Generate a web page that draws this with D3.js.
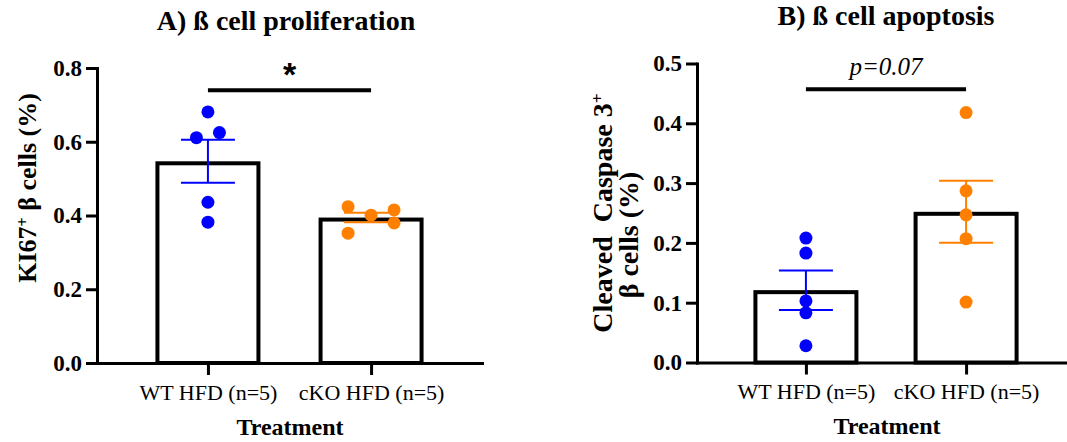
<!DOCTYPE html>
<html>
<head>
<meta charset="utf-8">
<script src="https://cdn.jsdelivr.net/npm/d3@7"></script>
<style>
	body { margin: 0; background: #fff; }
	svg { display: block; font-family: 'Liberation Serif', 'Times New Roman', serif; }
</style>
</head>
<body>
<svg id="chart" width="1067" height="442"></svg>
<script>
'use strict';

var groups      = ['WT HFD (n=5)', 'cKO HFD (n=5)'];
var groupColors = ['#0000ff', '#ff8000'];

// values (% of beta cells)
var prolifWT = [0.681, 0.625, 0.611, 0.436, 0.382];
var prolifKO = [0.424, 0.415, 0.401, 0.380, 0.352];
var apopWT   = [0.208, 0.183, 0.103, 0.083, 0.028];
var apopKO   = [0.418, 0.287, 0.247, 0.207, 0.101];

var prolifTicks = [0, 0.2, 0.4, 0.6, 0.8];
var apopTicks   = [0, 0.1, 0.2, 0.3, 0.4, 0.5];

var sigLabels = ['*', 'p=0.07'];
var sigLevels = [0.74, 0.457];

var titles   = ['A) ß cell proliferation', 'B) ß cell apoptosis'];
var xLabel   = 'Treatment';
// each line is a list of [text, superscript?]
var yLabelA  = [[['KI67', false], ['+', true], [' β cells (%)', false]]];
var yLabelB  = [[['Cleaved  Caspase 3', false], ['+', true]], [['β cells (%)', false]]];

var panels = [
	{
		title: titles[0], series: [prolifWT, prolifKO], ticks: prolifTicks,
		sig: sigLabels[0], sigLevel: sigLevels[0], yLabel: yLabelA,
		left: 97, right: 482, top: 68, bottom: 363,
		titleX: 286, titleY: 30, xLabelX: 290, xLabelY: 435,
		yLabelX: 36, yLabelY: 188, yLabelShift: [0], yLabelSize: 26
	},
	{
		title: titles[1], series: [apopWT, apopKO], ticks: apopTicks,
		sig: sigLabels[1], sigLevel: sigLevels[1], yLabel: yLabelB,
		left: 697, right: 1075, top: 63.5, bottom: 362.5,
		titleX: 886, titleY: 25, xLabelX: 887, xLabelY: 434,
		yLabelX: 612, yLabelY: 213, yLabelShift: [0, -22], yLabelSize: 28
	}
];

var svg = d3.select('#chart');

// spread points that sit too close vertically into side-by-side columns
function swarm(values, y, gap, spacing) {
	var order = values.map(function (v, i) { return i; })
		.sort(function (a, b) { return values[a] - values[b]; });
	var offsets = values.map(function () { return 0; });
	var group = [];

	function flush() {
		var cols = Math.min(group.length, 3);
		var slots = cols === 3 ? [-spacing, spacing, 0] : cols === 2 ? [-spacing / 2, spacing / 2] : [0];
		var n = slots.length;
		var period = n > 1 ? 2 * n - 2 : 1;

		group.forEach(function (idx, k) {
			var p = k % period;
			offsets[idx] = slots[p < n ? p : period - p];
		});
		group = [];
	}

	order.forEach(function (idx, k) {
		if (k > 0 && Math.abs(y(values[idx]) - y(values[order[k - 1]])) >= gap) {
			flush();
		}
		group.push(idx);
	});
	flush();

	return offsets;
}

function addRich(text, parts) {
	parts.forEach(function (p) {
		var t = text.append('tspan').text(p[0]);
		if (p[1]) {
			t.attr('baseline-shift', 'super').attr('font-size', '0.62em');
		}
	});
}

function drawPanel(cfg) {
	var g = svg.append('g');
	var ticks = cfg.ticks;

	var y = d3.scaleLinear()
		.domain([0, ticks[ticks.length - 1]])
		.range([cfg.bottom, cfg.top]);

	var x = d3.scalePoint()
		.domain(groups)
		.range([cfg.left, cfg.right])
		.padding(0.68);

	var stats = cfg.series.map(function (vals, i) {
		var m = d3.mean(vals);
		var se = d3.deviation(vals) / Math.sqrt(vals.length);
		return { name: groups[i], values: vals, mean: m, sem: se, color: groupColors[i] };
	});

	// bars, stroke kept inside the mean
	g.selectAll('.bar').data(stats).enter().append('rect')
		.attr('class', 'bar')
		.attr('x', function (d) { return x(d.name) - 50.5; })
		.attr('width', 101)
		.attr('y', function (d) { return y(d.mean) + 2; })
		.attr('height', function (d) { return y(0) - y(d.mean) - 2; })
		.attr('fill', '#fff')
		.attr('stroke', '#000')
		.attr('stroke-width', 4);

	// axes
	var yAxis = g.append('g')
		.attr('transform', 'translate(' + cfg.left + ',0)')
		.call(d3.axisLeft(y).tickValues(ticks).tickSize(11).tickSizeOuter(0).tickPadding(4)
			.tickFormat(d3.format('.1f')));

	var xAxis = g.append('g')
		.attr('transform', 'translate(0,' + y(0) + ')')
		.call(d3.axisBottom(x).tickSize(12).tickSizeOuter(0));

	[yAxis, xAxis].forEach(function (a) {
		a.attr('font-family', null).attr('font-size', null);
		a.selectAll('path, line').attr('stroke', '#000').attr('stroke-width', 3);
		a.select('.domain').attr('stroke-linecap', 'square');
	});

	yAxis.selectAll('text')
		.attr('font-size', 23)
		.attr('font-weight', 'bold')
		.attr('fill', '#000');

	xAxis.selectAll('text')
		.attr('font-size', 22)
		.attr('fill', '#000')
		.attr('y', 21);

	// error bars
	var err = g.selectAll('.err').data(stats).enter().append('g')
		.attr('class', 'err')
		.attr('stroke', function (d) { return d.color; })
		.attr('stroke-width', 2);

	err.append('line')
		.attr('x1', function (d) { return x(d.name); })
		.attr('x2', function (d) { return x(d.name); })
		.attr('y1', function (d) { return y(d.mean + d.sem); })
		.attr('y2', function (d) { return y(d.mean - d.sem); });

	[1, -1].forEach(function (s) {
		err.append('line')
			.attr('x1', function (d) { return x(d.name) - 27; })
			.attr('x2', function (d) { return x(d.name) + 27; })
			.attr('y1', function (d) { return y(d.mean + s * d.sem); })
			.attr('y2', function (d) { return y(d.mean + s * d.sem); });
	});

	// individual points
	stats.forEach(function (d) {
		var off = swarm(d.values, y, 11, 23);

		g.selectAll(null).data(d.values).enter().append('circle')
			.attr('cx', function (v, i) { return x(d.name) + off[i]; })
			.attr('cy', function (v) { return y(v); })
			.attr('r', 6.5)
			.attr('fill', d.color);
	});

	// significance bracket
	var x1 = x(groups[0]);
	var x2 = x(groups[1]);

	g.append('line')
		.attr('x1', x1).attr('x2', x2)
		.attr('y1', y(cfg.sigLevel)).attr('y2', y(cfg.sigLevel))
		.attr('stroke', '#000')
		.attr('stroke-width', 4);

	var sig = g.append('text')
		.attr('x', (x1 + x2) / 2)
		.attr('text-anchor', 'middle')
		.text(cfg.sig);

	if (cfg.sig === '*') {
		sig.attr('y', y(cfg.sigLevel) - 4)
			.attr('font-family', "'Liberation Sans', Arial, sans-serif")
			.attr('font-weight', 'bold')
			.attr('font-size', 34);
	} else {
		sig.attr('y', y(cfg.sigLevel) - 14)
			.attr('font-style', 'italic')
			.attr('font-size', 25);
	}

	// titles and axis labels
	g.append('text')
		.attr('x', cfg.titleX).attr('y', cfg.titleY)
		.attr('text-anchor', 'middle')
		.attr('font-weight', 'bold')
		.attr('font-size', 28)
		.text(cfg.title);

	g.append('text')
		.attr('x', cfg.xLabelX).attr('y', cfg.xLabelY)
		.attr('text-anchor', 'middle')
		.attr('font-weight', 'bold')
		.attr('font-size', 24)
		.text(xLabel);

	var yl = g.append('g')
		.attr('transform', 'translate(' + cfg.yLabelX + ',' + cfg.yLabelY + ') rotate(-90)');

	cfg.yLabel.forEach(function (line, i) {
		var t = yl.append('text')
			.attr('x', cfg.yLabelShift[i])
			.attr('y', i * 26)
			.attr('text-anchor', 'middle')
			.attr('font-weight', 'bold')
			.attr('font-size', cfg.yLabelSize)
			.style('white-space', 'pre');
		addRich(t, line);
	});
}

panels.forEach(drawPanel);
</script>
</body>
</html>
